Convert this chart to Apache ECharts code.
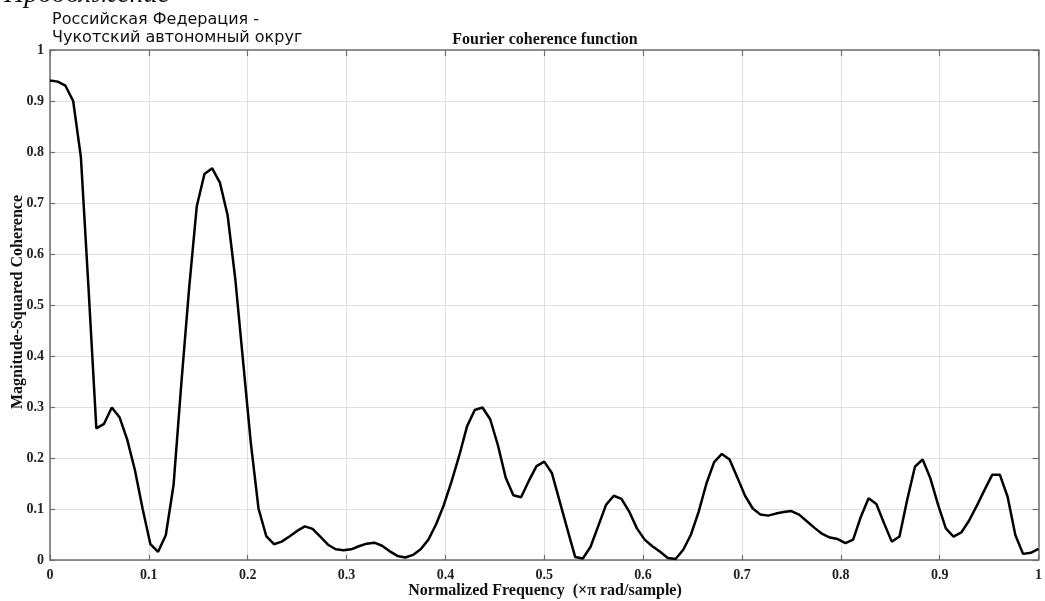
<!DOCTYPE html>
<html>
<head>
<meta charset="utf-8">
<script src="https://cdn.jsdelivr.net/npm/echarts@6/dist/echarts.min.js"></script>
<style>
html,body{margin:0;padding:0;background:#ffffff;}
#chart{width:1045px;height:601px;}
</style>
</head>
<body>
<div id="chart"></div>
<script>
// Magnitude-squared coherence, one value per frequency bin (129 bins from 0 to 1)
const coherence = [
  0.940, 0.938, 0.930, 0.900, 0.790, 0.530, 0.258, 0.267, 0.299, 0.280,
  0.236, 0.176, 0.100, 0.031, 0.016, 0.049, 0.147, 0.345, 0.530, 0.693,
  0.757, 0.768, 0.740, 0.676, 0.550, 0.390, 0.230, 0.101, 0.047, 0.031,
  0.036, 0.046, 0.057, 0.066, 0.061, 0.046, 0.030, 0.021, 0.019, 0.021,
  0.027, 0.032, 0.034, 0.028, 0.017, 0.008, 0.005, 0.010, 0.021, 0.040,
  0.070, 0.108, 0.154, 0.205, 0.262, 0.294, 0.299, 0.276, 0.225, 0.162,
  0.127, 0.123, 0.155, 0.184, 0.193, 0.170, 0.115, 0.060, 0.006, 0.003,
  0.026, 0.067, 0.108, 0.126, 0.120, 0.095, 0.062, 0.040, 0.027, 0.016,
  0.004, 0.002, 0.020, 0.050, 0.095, 0.150, 0.192, 0.208, 0.197, 0.162,
  0.126, 0.101, 0.089, 0.087, 0.091, 0.094, 0.096, 0.089, 0.076, 0.063,
  0.051, 0.044, 0.041, 0.033, 0.040, 0.085, 0.121, 0.110, 0.072, 0.036,
  0.046, 0.118, 0.183, 0.197, 0.160, 0.108, 0.062, 0.046, 0.054, 0.077,
  0.106, 0.137, 0.167, 0.167, 0.124, 0.049, 0.012, 0.014, 0.022
];
const binsPerUnit = 128; // frequency bin k sits at k / 128 (× π rad/sample)

const xTickLabels = ['0','0.1','0.2','0.3','0.4','0.5','0.6','0.7','0.8','0.9','1'];
const yTickLabels = ['0','0.1','0.2','0.3','0.4','0.5','0.6','0.7','0.8','0.9','1'];

const titleText = 'Fourier coherence function';
const xAxisName = 'Normalized Frequency  (×π rad/sample)';
const yAxisName = 'Magnitude-Squared Coherence';
const headerTop = 'Продолжение';
const regionLines = ['Российская Федерация -', 'Чукотский автономный округ'];

const seriesData = coherence.map((v, k) => [k / binsPerUnit, v]);

const serif = "'Liberation Serif', 'Times New Roman', serif";
const axisColor = '#6e6e6e';
const gridColor = '#e0e0e0';

function tickFmt(labels) {
  return function (v) { return labels[Math.round(v * 10)]; };
}

const labelStyle = {
  fontFamily: serif, fontWeight: 'bold', fontSize: 14, color: '#222'
};

const chart = echarts.init(document.getElementById('chart'), null, {renderer: 'canvas'});
chart.setOption({
  animation: false,
  backgroundColor: '#ffffff',
  grid: {left: 50, right: 5, top: 50, bottom: 41, containLabel: false},
  xAxis: [
    {
      type: 'value', position: 'bottom', min: 0, max: 1, interval: 0.1,
      axisLine: {show: true, onZero: false, lineStyle: {color: axisColor, width: 1.5}},
      axisTick: {show: true, inside: true, length: 5, lineStyle: {color: axisColor, width: 1.2}},
      axisLabel: Object.assign({margin: 8, formatter: tickFmt(xTickLabels)}, labelStyle),
      splitLine: {show: true, lineStyle: {color: gridColor, width: 1}}
    },
    {
      type: 'value', position: 'top', min: 0, max: 1, interval: 0.1,
      axisLine: {show: true, onZero: false, lineStyle: {color: axisColor, width: 1.5}},
      axisTick: {show: true, inside: true, length: 6, lineStyle: {color: axisColor, width: 1.2}},
      axisLabel: {show: false},
      splitLine: {show: false}
    }
  ],
  yAxis: [
    {
      type: 'value', position: 'left', min: 0, max: 1, interval: 0.1,
      axisLine: {show: true, onZero: false, lineStyle: {color: axisColor, width: 1.5}},
      axisTick: {show: true, inside: true, length: 5, lineStyle: {color: axisColor, width: 1.2}},
      axisLabel: Object.assign({margin: 6, formatter: tickFmt(yTickLabels)}, labelStyle),
      splitLine: {show: true, lineStyle: {color: gridColor, width: 1}}
    },
    {
      type: 'value', position: 'right', min: 0, max: 1, interval: 0.1,
      axisLine: {show: true, onZero: false, lineStyle: {color: axisColor, width: 1.5}},
      axisTick: {show: true, inside: true, length: 6, lineStyle: {color: axisColor, width: 1.2}},
      axisLabel: {show: false},
      splitLine: {show: false}
    }
  ],
  series: [{
    type: 'line',
    xAxisIndex: 0, yAxisIndex: 0,
    data: seriesData,
    showSymbol: false,
    smooth: false,
    lineStyle: {color: '#000000', width: 2.5},
    z: 5
  }],
  graphic: [
    {type: 'text', left: 4, top: -19, style: {text: headerTop, font: "italic 28px 'Liberation Serif', serif", fill: '#111'}},
    {type: 'text', x: 52, y: 20, style: {text: regionLines[0], font: "16px 'DejaVu Sans', sans-serif", fill: '#111', textVerticalAlign: 'middle'}},
    {type: 'text', x: 52, y: 38, style: {text: regionLines[1], font: "16px 'DejaVu Sans', sans-serif", fill: '#111', textVerticalAlign: 'middle'}},
    {type: 'text', x: 545, y: 40, style: {text: titleText, font: "bold 16px 'Liberation Serif', serif", fill: '#111', textAlign: 'center', textVerticalAlign: 'middle'}},
    {type: 'text', x: 545, y: 591, style: {text: xAxisName, font: "bold 16px 'Liberation Serif', serif", fill: '#111', textAlign: 'center', textVerticalAlign: 'middle'}},
    {type: 'text', x: 18, y: 302, rotation: Math.PI / 2, style: {text: yAxisName, font: "bold 16px 'Liberation Serif', serif", fill: '#111', textAlign: 'center', textVerticalAlign: 'middle'}}
  ]
});
</script>
</body>
</html>
